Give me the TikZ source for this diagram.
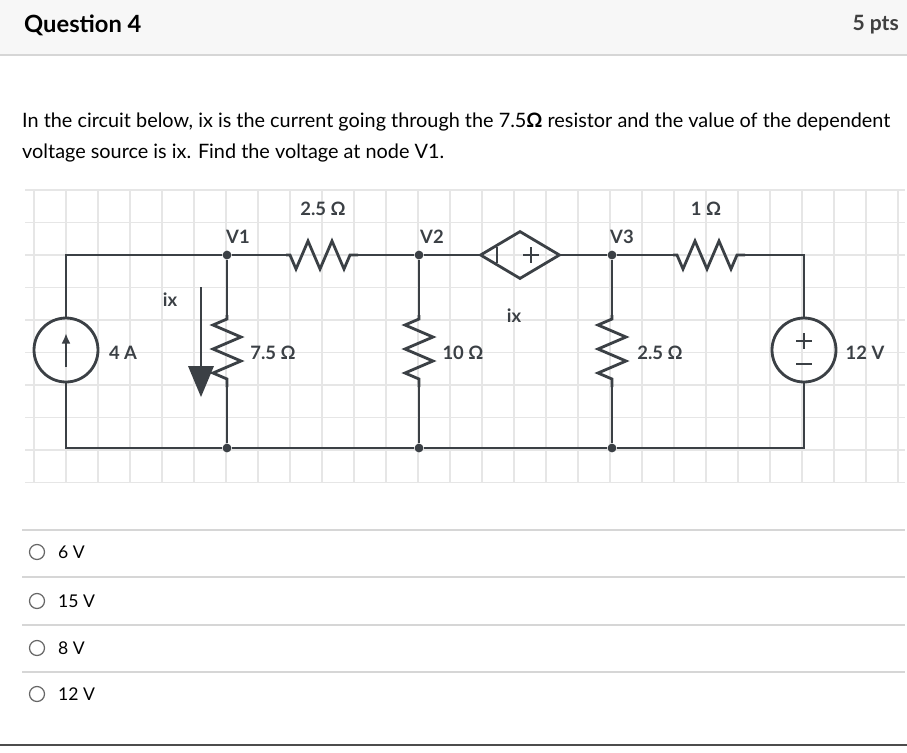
\documentclass[tikz,border=0pt]{standalone}
\usepackage{fontspec}
\setmainfont{Lato}
\usetikzlibrary{positioning,arrows.meta,shapes.geometric}
\definecolor{wire}{HTML}{3B4045}
\definecolor{gridc}{HTML}{E6E6E6}
\definecolor{sep}{HTML}{D6D6D6}
\tikzset{
    wirestyle/.style={draw=wire,line width=1.6pt},
    lbl/.style={font=\fontsize{10.5}{12}\selectfont\bfseries,text=wire},
    opt/.style={font=\fontsize{10}{12}\selectfont,text=black,anchor=west},
    dot/.style={circle,fill=wire,inner sep=0pt,minimum size=5pt},
    resistor/.pic={
        \draw[wirestyle,line join=miter] (0,0) -- (4,0) -- (10,14) -- (22,-14) -- (34,14)
            -- (46,-14) -- (58,14) -- (64,0) -- (72,0);
    }
}
\begin{document}
\begin{tikzpicture}[x=0.02cm,y=-0.02cm]
    \useasboundingbox (0,0) rectangle (907,752);
    % header
    \fill[gray!6] (0,0) rectangle (907,55);
    \draw[sep,line width=0.8pt] (0,55) -- (907,55);
    \node[anchor=west,font=\fontsize{13.5}{16}\selectfont\bfseries] (title) at (18,25) {Question 4};
    \node[anchor=east,font=\fontsize{12}{14}\selectfont\bfseries,text=black!75] (pts) at (905,25) {5 pts};
    \node[anchor=west,font=\fontsize{11.3}{13}\selectfont] (q1) at (16,122)
        {In the circuit below, ix is the current going through the 7.5\textbf{Ω} resistor and the value of the dependent};
    \node[anchor=west,font=\fontsize{11.3}{13}\selectfont] (q2) at (16,153)
        {voltage source is ix. Find the voltage at node V1.};
    % grid
    \foreach \gx in {34,66,...,900} \draw[gridc,line width=0.6pt] (\gx,190) -- (\gx,482);
    \foreach \gy in {190,222.5,...,485} \draw[gridc,line width=0.6pt] (25,\gy) -- (905,\gy);
    % nodes of the circuit
    \coordinate (TL) at (66,255);
    \coordinate (BL) at (66,448);
    \node[dot] (V1) at (227,255) {};
    \node[dot] (V2) at (419,255) {};
    \node[dot] (V3) at (612,255) {};
    \coordinate (TR) at (804,255);
    \node[dot] (G1) at (227,448) {};
    \node[dot] (G2) at (419,448) {};
    \node[dot] (G3) at (612,448) {};
    \coordinate (BR) at (804,448);
    % sources
    \node[circle,draw=wire,line width=1.6pt,minimum size=1.28cm,inner sep=0pt] (Is) at (66,350) {};
    \draw[wire,line width=1.6pt,-{Latex[length=6pt,width=5pt]}] (66,367) -- (66,333);
    \node[circle,draw=wire,line width=1.6pt,minimum size=1.28cm,inner sep=0pt] (Vs) at (804,350) {};
    \draw[wire,line width=1pt] (796,341) -- (812,341) (804,333) -- (804,349) (796,364) -- (812,364);
    \node[draw=wire,line width=1.6pt,minimum width=1.6cm,minimum height=0.96cm,inner sep=0pt,
        shape=diamond,aspect=1.67] (Dv) at (520,255) {};
    \draw[wire,line width=1pt] (497,247) -- (497,263) (523,255) -- (539,255) (531,247) -- (531,263);
    % wires
    \draw[wirestyle] (Is.north) -- (TL) -- (V1) -- (286,255);
    \draw[wirestyle] (358,255) -- (V2) -- (Dv.west);
    \draw[wirestyle] (Dv.east) -- (V3) -- (673,255);
    \draw[wirestyle] (745,255) -- (TR) -- (Vs.north);
    \draw[wirestyle] (Is.south) -- (BL) -- (G1) -- (G2) -- (G3) -- (BR) -- (Vs.south);
    \draw[wirestyle] (V1) -- (227,315) (227,387) -- (G1);
    \draw[wirestyle] (V2) -- (419,315) (419,387) -- (G2);
    \draw[wirestyle] (V3) -- (612,315) (612,387) -- (G3);
    % resistors
    \pic at (286,255) {resistor};
    \pic at (673,255) {resistor};
    \pic[rotate=-90] at (227,315) {resistor};
    \pic[rotate=-90] at (419,315) {resistor};
    \pic[rotate=-90] at (612,315) {resistor};
    % ix arrow
    \draw[wire,line width=1.4pt] (201,287) -- (201,370);
    \fill[wire] (188,366) -- (214,366) -- (201,397) -- cycle;
    % labels
    \node[lbl] (lR1) at (323,209) {2.5 Ω};
    \node[lbl] (lV1) at (238,237) {V1};
    \node[lbl] (lV2) at (432,237) {V2};
    \node[lbl] (lV3) at (622,237) {V3};
    \node[lbl] (lR4) at (706,209) {1 Ω};
    \node[lbl] (lIs) at (123,353) {4 A};
    \node[lbl] (lix) at (170,300) {ix};
    \node[lbl] (lR2) at (273,353) {7.5 Ω};
    \node[lbl] (lR3) at (463,353) {10 Ω};
    \node[lbl] (lDv) at (514,316) {ix};
    \node[lbl] (lR5) at (660,353) {2.5 Ω};
    \node[lbl] (lVs) at (865,353) {12 V};
    % answers
    \foreach \ly in {530,577,625,672} \draw[sep,line width=0.8pt] (22,\ly) -- (905,\ly);
    \draw[black!70,line width=1pt] (0,745) -- (907,745);
    \foreach \ay/\atxt [count=\i] in {552/6 V,601/15 V,648/8 V,694/12 V} {
        \draw[black!60,line width=0.7pt] (37,\ay) circle (7.5);
        \node[opt] (ans\i) at (52,\ay) {\atxt};
    }
\end{tikzpicture}
\end{document}
